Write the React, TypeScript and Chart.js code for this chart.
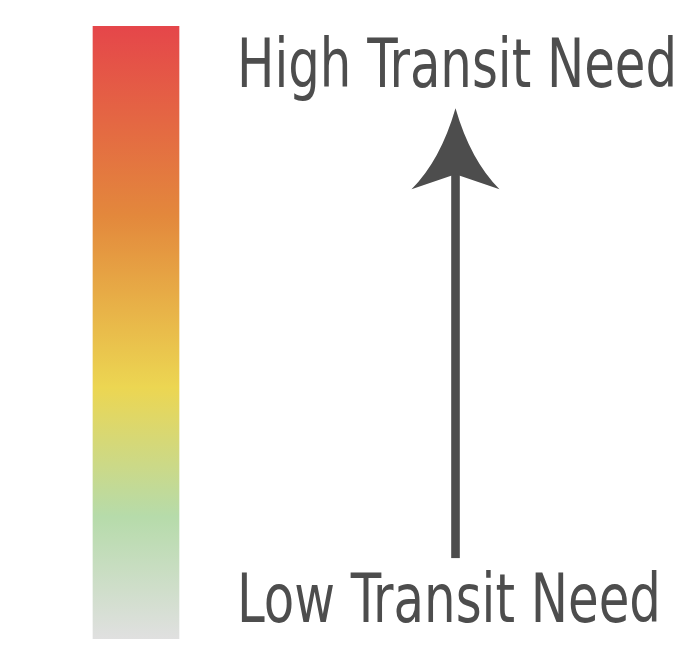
import React, { useEffect, useRef } from "react";
import { Chart, registerables } from "chart.js";

Chart.register(...registerables);

// Gradient scale (0 = bottom/low need, 1 = top/high need)
const gradientStops = [0, 0.2, 0.41, 0.69, 1];
const gradientColors = ["#e0e0e0", "#b6dbaa", "#ecd652", "#e3883c", "#e5464a"];
const barRange = [0, 1];
const arrowRange = [0.132, 0.866];
const labelTexts = ["Low Transit Need", "High Transit Need"];
const labelValues = [0.027, 0.9];

const INK = "#4d4d4d";

const overlayPlugin = {
  id: "overlay",
  afterDatasetsDraw(chart: any) {
    const { ctx, scales } = chart;
    const xs = scales.x;
    const ys = scales.y;
    const cx = xs.getPixelForValue(455.5);
    const yBottom = ys.getPixelForValue(arrowRange[0]);
    const yTip = ys.getPixelForValue(arrowRange[1]);
    const headLen = 81;
    const yWing = yTip + headLen;
    const yNotch = yTip + 66;
    const halfW = 44;
    ctx.save();
    ctx.fillStyle = INK;
    // shaft
    ctx.fillRect(cx - 4.3, yNotch - 2, 8.6, yBottom - yNotch + 2);
    // head
    ctx.beginPath();
    ctx.moveTo(cx, yTip);
    ctx.quadraticCurveTo(cx - 15, yTip + 52, cx - halfW, yWing);
    ctx.lineTo(cx, yNotch);
    ctx.lineTo(cx + halfW, yWing);
    ctx.quadraticCurveTo(cx + 15, yTip + 52, cx, yTip);
    ctx.closePath();
    ctx.fill();
    // labels
    ctx.font = '400 68px "Liberation Sans Narrow", "DejaVu Sans Condensed", "Open Sans", sans-serif';
    ctx.textBaseline = "alphabetic";
    ctx.textAlign = "left";
    const widths = [424, 440];
    labelTexts.forEach((t, i) => {
      const y = ys.getPixelForValue(labelValues[i]);
      ctx.fillText(t, xs.getPixelForValue(237), y, widths[i]);
    });
    ctx.restore();
  },
};

export default function App() {
  const ref = useRef<HTMLCanvasElement>(null);
  useEffect(() => {
    document.body.style.margin = "0";
    const canvas = ref.current!;
    const chart = new Chart(canvas, {
      type: "bar",
      data: {
        datasets: [
          {
            data: [{ x: 136, y: barRange }] as any,
            barThickness: 86,
            borderWidth: 0,
            backgroundColor: (c: any) => {
              const area = c.chart.chartArea;
              if (!area) return gradientColors[0];
              const g = c.chart.ctx.createLinearGradient(0, area.bottom, 0, area.top);
              gradientStops.forEach((s, i) => g.addColorStop(s, gradientColors[i]));
              return g;
            },
          },
        ],
      },
      options: {
        responsive: false,
        animation: false,
        layout: { padding: { top: 26, bottom: 25, left: 0, right: 0 } },
        plugins: { legend: { display: false }, tooltip: { enabled: false } },
        scales: {
          x: { type: "linear", min: 0, max: 691, display: false, offset: false },
          y: { type: "linear", min: 0, max: 1, display: false },
        },
      },
      plugins: [overlayPlugin],
    });
    return () => chart.destroy();
  }, []);
  return (
    <div style={{ position: "absolute", left: 0, top: 0, width: 691, height: 664, background: "#fff" }}>
      <canvas ref={ref} width={691} height={664} />
    </div>
  );
}
